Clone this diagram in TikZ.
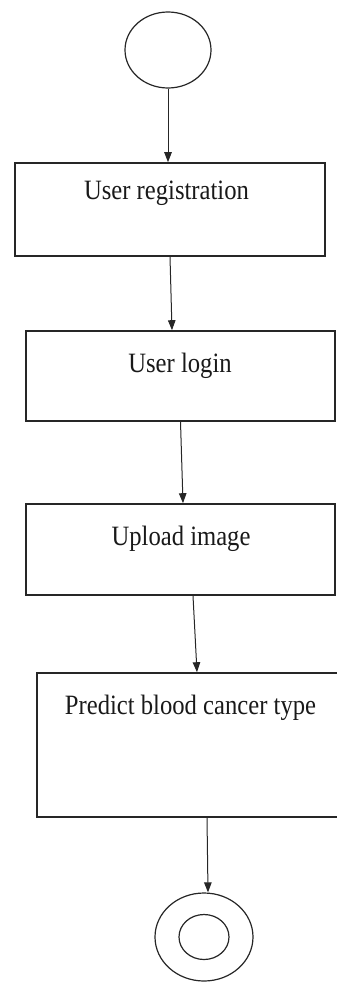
\documentclass[tikz,border=0pt]{standalone}
\usepackage{fontspec}
\setmainfont{Liberation Serif}
\usetikzlibrary{calc,arrows.meta,shapes.geometric}
\begin{document}
\begin{tikzpicture}[x=1pt,y=-1pt,
  stepbox/.style={draw=black!85, line width=1.6pt, rectangle, inner sep=0pt},
  lbl/.style={anchor=base, inner sep=0pt, text=black!90,
    font=\fontsize{28}{30}\selectfont},
  flow/.style={draw=black!85, line width=1pt,
    -{Triangle[length=10pt,width=7.5pt]}},
  ring/.style={draw=black!85, line width=1.2pt, ellipse, inner sep=0pt}]
  % page frame
  \useasboundingbox (0,0) rectangle (337,982);
  \begin{scope}
  \clip (0,0) rectangle (337,982);

  % initial state
  \node[ring, minimum width=86pt, minimum height=76pt] (start) at (168,50) {};

  % activity boxes
  \node[stepbox, minimum width=310pt, minimum height=93pt] (b1) at (170,209.5) {};
  \node[stepbox, minimum width=309pt, minimum height=90pt] (b2) at (180.5,376) {};
  \node[stepbox, minimum width=309pt, minimum height=91pt] (b3) at (180.5,549.5) {};
  \node[stepbox, minimum width=304pt, minimum height=144pt] (b4) at (189,745) {};

  % labels
  \node[lbl] (t1) at (166.5,199) {\scalebox{0.88}[1]{User registration}};
  \node[lbl] (t2) at (180,372) {\scalebox{0.88}[1]{User login}};
  \node[lbl] (t3) at (181,545) {\scalebox{0.88}[1]{Upload image}};
  \node[lbl] (t4) at (190.5,714) {\scalebox{0.88}[1]{Predict blood cancer type}};

  % final state
  \node[ring, minimum width=98pt, minimum height=88pt] (stop) at (204,937) {};
  \node[ring, minimum width=50pt, minimum height=45pt] (stopin) at (204,937) {};

  % transitions
  \draw[flow] (start.south) -- ($(b1.north)+(-2,0)$);
  \draw[flow] (b1.south) -- ($(b2.north)+(-8.5,0)$);
  \draw[flow] (b2.south) -- ($(b3.north)+(2.5,0)$);
  \draw[flow] ($(b3.south)+(12.5,0)$) -- ($(b4.north)+(8,0)$);
  \draw[flow] ($(b4.south)+(18,0)$) -- ($(stop.north)+(4,0)$);
  \end{scope}
\end{tikzpicture}
\end{document}
